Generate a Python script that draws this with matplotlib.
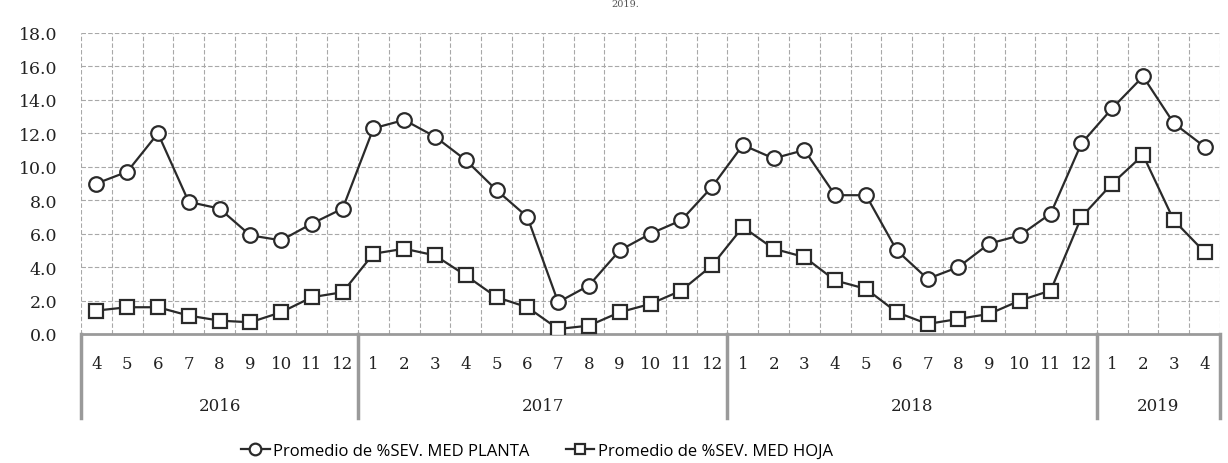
import matplotlib.pyplot as plt
import matplotlib.transforms as mtransforms
import numpy as np

# data
years = ["2016", "2017", "2018", "2019"]
months_per_year = [
    [4, 5, 6, 7, 8, 9, 10, 11, 12],
    [1, 2, 3, 4, 5, 6, 7, 8, 9, 10, 11, 12],
    [1, 2, 3, 4, 5, 6, 7, 8, 9, 10, 11, 12],
    [1, 2, 3, 4],
]
sev_planta = [
    9.0, 9.7, 12.0, 7.9, 7.5, 5.9, 5.6, 6.6, 7.5,
    12.3, 12.8, 11.8, 10.4, 8.6, 7.0, 1.9, 2.9, 5.0, 6.0, 6.8, 8.8,
    11.3, 10.5, 11.0, 8.3, 8.3, 5.0, 3.3, 4.0, 5.4, 5.9, 7.2, 11.4,
    13.5, 15.4, 12.6, 11.2,
]
sev_hoja = [
    1.4, 1.6, 1.6, 1.1, 0.8, 0.7, 1.3, 2.2, 2.5,
    4.8, 5.1, 4.7, 3.5, 2.2, 1.6, 0.3, 0.5, 1.3, 1.8, 2.6, 4.1,
    6.4, 5.1, 4.6, 3.2, 2.7, 1.3, 0.6, 0.9, 1.2, 2.0, 2.6, 7.0,
    9.0, 10.7, 6.8, 4.9,
]
series_labels = ["Promedio de %SEV. MED PLANTA", "Promedio de %SEV. MED HOJA"]

W, H = 1228, 464
fig = plt.figure(figsize=(W / 100, H / 100), dpi=100)
left, right, top, bottom = 81, 1220, 34, 335
ax = fig.add_axes([left / W, 1 - bottom / H, (right - left) / W, (bottom - top) / H])

ink = "#2a2a2a"
grid_c = "#a8a8a8"
sep_c = "#9a9a9a"
serif = "DejaVu Serif"

n = len(sev_planta)
x = np.arange(n)

ax.plot(x, sev_planta, color=ink, lw=1.6, marker="o", ms=10.5,
        mfc="white", mec=ink, mew=1.6, label=series_labels[0], zorder=3)
ax.plot(x, sev_hoja, color=ink, lw=1.6, marker="s", ms=9.5,
        mfc="white", mec=ink, mew=1.6, label=series_labels[1], zorder=3)

ax.set_xlim(-0.5, n - 0.5)
ax.set_ylim(0, 18)
yt = np.arange(0, 18.1, 2)
ax.set_yticks(yt)
ax.set_yticklabels([f"{v:.1f}" for v in yt], family=serif, fontsize=12.5,
                   color="#222222")
ax.tick_params(axis="y", length=0, pad=17)
ax.set_xticks([])

# gridlines: horizontal every 2.0, vertical at category edges
for yv in yt[1:]:
    ax.axhline(yv, color=grid_c, lw=0.8, ls=(0, (4, 2)), zorder=1)
for xv in np.arange(-0.5, n, 1):
    ax.axvline(xv, color=grid_c, lw=0.8, ls=(0, (4, 2)), zorder=1)

for s in ["top", "right", "left"]:
    ax.spines[s].set_visible(False)
ax.spines["bottom"].set_color(sep_c)
ax.spines["bottom"].set_linewidth(2)

# two-level category axis
trans = mtransforms.blended_transform_factory(ax.transData, ax.transAxes)
ph = bottom - top
month_y = -30 / ph
year_y = -72 / ph
sep_bottom = -84 / ph

pos = 0
ax.plot([-0.5, -0.5], [0, sep_bottom], transform=trans, color=sep_c,
        lw=2.5, clip_on=False)
for yr, months in zip(years, months_per_year):
    for i, m in enumerate(months):
        ax.text(pos + i, month_y, str(m), transform=trans, ha="center",
                va="center", family=serif, fontsize=12, color="#222222")
    ax.text(pos + (len(months) - 1) / 2, year_y, yr, transform=trans,
            ha="center", va="center", family=serif, fontsize=12,
            color="#222222")
    pos += len(months)
    ax.plot([pos - 0.5, pos - 0.5], [0, sep_bottom], transform=trans,
            color=sep_c, lw=2.5, clip_on=False)

# title from the page above, mostly cut off in the scan
fig.text(625 / W, 1.0, "2019.", ha="center", va="top",
         family=serif, fontsize=7, color="#555555")

fig.legend(loc="center", bbox_to_anchor=(537 / W, 1 - 452 / H), ncol=2,
           frameon=False, handlelength=1.7, handletextpad=0.2,
           columnspacing=2.2, markerscale=0.8,
           prop={"family": "Open Sans", "size": 12})

fig.savefig("out.png", dpi=100)
